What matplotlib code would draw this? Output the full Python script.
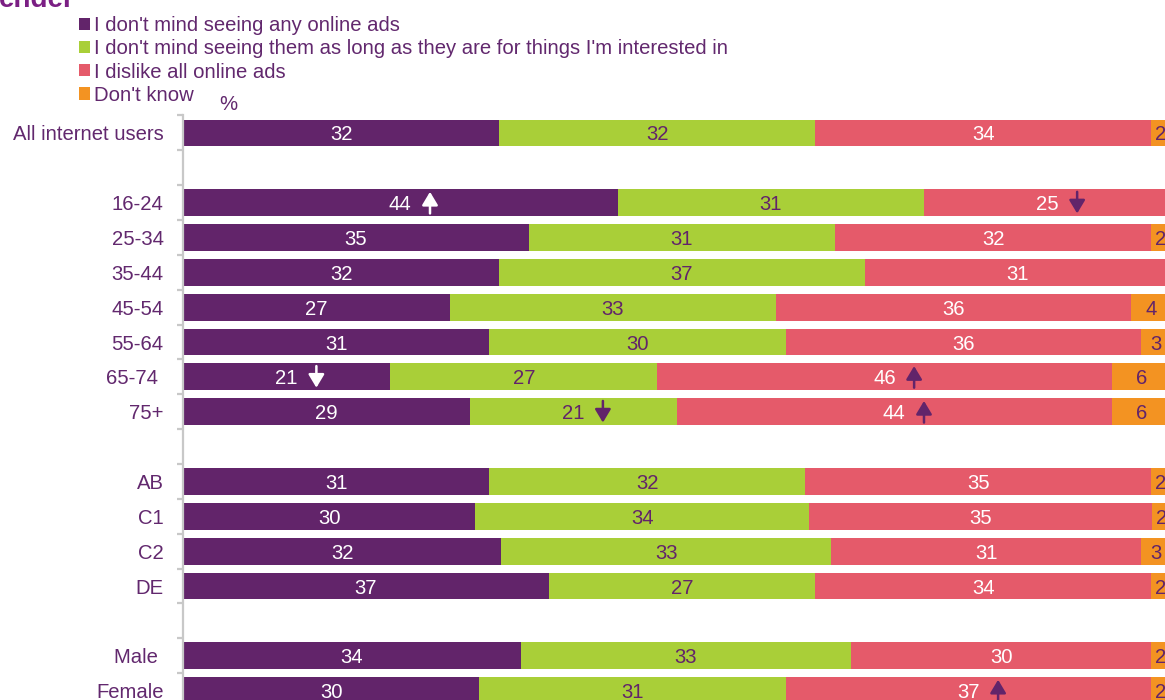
import matplotlib
matplotlib.use('Agg')
import matplotlib.pyplot as plt
import numpy as np

plt.rcParams['font.family'] = ['Liberation Sans', 'DejaVu Sans']

# ---------------- data ----------------
groups = [
    ['All internet users'],
    ['16-24', '25-34', '35-44', '45-54', '55-64', '65-74 ', '75+'],
    ['AB', 'C1', 'C2', 'DE'],
    ['Male ', 'Female'],
]
series_names = ["I don't mind seeing any online ads",
                "I don't mind seeing them as long as they are for things I'm interested in",
                "I dislike all online ads",
                "Don't know"]
dont_mind_any = [32, 44, 35, 32, 27, 31, 21, 29, 31, 29.6, 32.2, 37, 34.2, 30]
dont_mind_if_interested = [32, 31, 31, 37, 33, 30, 27, 21, 32, 33.8, 33.4, 27, 33.4, 31]
dislike_all = [34, 25, 32, 31, 36, 36, 46, 44, 35, 34.7, 31.4, 34, 30.4, 37]
dont_know = [2, 0, 2, 0, 4, 3, 6, 6, 2, 1.9, 3, 2, 2, 2]
# significance markers: (category, series index, direction)
sig_markers = [('16-24', 0, 'up'), ('16-24', 2, 'down'),
               ('65-74 ', 0, 'down'), ('65-74 ', 2, 'up'),
               ('75+', 1, 'down'), ('75+', 2, 'up'),
               ('Female', 2, 'up')]

# ---------------- style ----------------
colors = ['#62246A', '#A9CF38', '#E55A6A', '#F39322']
text_colors = ['white', '#62246A', 'white', '#62246A']
label_color = '#62286E'
FS = 14.6

fig = plt.figure(figsize=(11.65, 7), dpi=100)
W, H = 1165, 700
ax = fig.add_axes([183 / W, 1 - 708 / H, 988 / W, 592.5 / H])

categories = []
positions = []
p = 0
for g in groups:
    for c in g:
        categories.append(c)
        positions.append(p)
        p += 1
    p += 1
positions = np.array(positions)

data = [np.array(dont_mind_any, float), np.array(dont_mind_if_interested, float),
        np.array(dislike_all, float), np.array(dont_know, float)]
left = np.zeros(len(categories))
lefts = []
for i, vals in enumerate(data):
    ax.barh(positions, vals, left=left, height=0.77, color=colors[i],
            label=series_names[i], linewidth=0)
    for pos, l, v in zip(positions, left, vals):
        if v > 0.5:
            ax.text(l + v / 2, pos, f'{v:.0f}', ha='center', va='center_baseline',
                    color=text_colors[i], fontsize=FS)
    lefts.append(left.copy())
    left = left + vals

for cat, si, d in sig_markers:
    idx = categories.index(cat)
    pos = positions[idx]
    x = lefts[si][idx] + data[si][idx] / 2 + 3.0
    col = 'white' if si == 0 else '#62246A'
    top, bot = pos - 0.31, pos + 0.31
    if d == 'up':
        xy, xytext = (x, top), (x, bot)
    else:
        xy, xytext = (x, bot), (x, top)
    ax.annotate('', xy=xy, xytext=xytext,
                arrowprops=dict(arrowstyle='-|>,head_length=0.4,head_width=0.24',
                                mutation_scale=20, color=col, lw=1.8,
                                shrinkA=0, shrinkB=0))

ax.set_xlim(0, 100)
ax.set_ylim(16.5, -0.5)
for s in ['top', 'right', 'bottom']:
    ax.spines[s].set_visible(False)
ax.spines['left'].set_color('#C8C8C8')
ax.spines['left'].set_linewidth(1.6)
ax.set_xticks([])
ax.set_yticks(positions)
ax.set_yticklabels(categories, fontsize=FS, color=label_color)
ax.tick_params(axis='y', which='major', length=0, pad=14)
ax.set_yticks(np.arange(-0.5, 17, 1.0), minor=True)
ax.tick_params(axis='y', which='minor', length=4.5, width=1.6, color='#C8C8C8')

handles, labels = ax.get_legend_handles_labels()
leg = fig.legend(handles, labels, loc='upper left',
                 bbox_to_anchor=(79 / W, 1 - 16 / H), frameon=False,
                 fontsize=FS, handlelength=0.55, handleheight=0.55,
                 handletextpad=0.2, labelspacing=0.21, borderpad=0,
                 borderaxespad=0, labelcolor=label_color)

fig.text(228 / W, 1 - 105 / H, '%', ha='center', va='center', fontsize=FS,
         color=label_color)
fig.text(-1 / W, 1 - 7 / H, 'ender', ha='left', va='baseline', fontsize=20,
         fontweight='bold', color='#7B1F84')

fig.savefig('out.png', dpi=100)
